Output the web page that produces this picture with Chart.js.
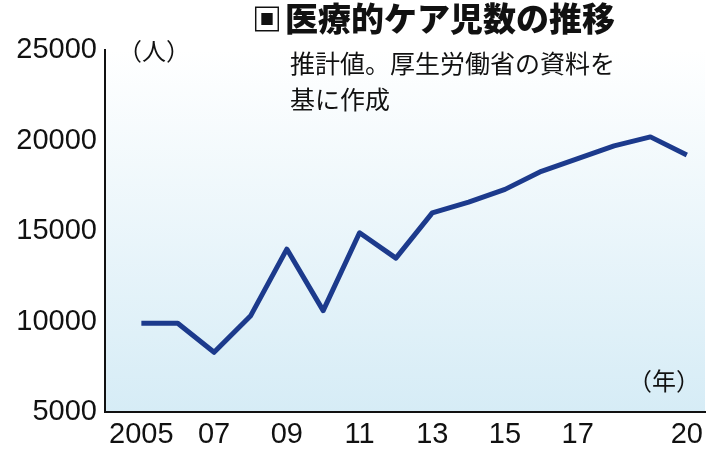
<!DOCTYPE html>
<html>
<head>
<meta charset="utf-8">
<script src="https://cdn.jsdelivr.net/npm/chart.js@4"></script>
<style>
  body { margin: 0; background: #fff; }
  #wrap { position: relative; width: 710px; height: 460px; }
  .t { position: absolute; font-family: "Noto Sans CJK JP", sans-serif; color: #111; white-space: nowrap; }
</style>
</head>
<body>
<div id="wrap">
  <canvas id="chart" width="710" height="460"></canvas>
  <div class="t" style="left:252px;top:-5px;font-size:30px;font-weight:900;">&#x25A3;</div>
  <div class="t" style="left:285px;top:-7px;font-size:33px;font-weight:900;">医療的ケア児数の推移</div>
  <div class="t" style="left:290px;top:44px;font-size:25px;">推計値。厚生労働省の資料を</div>
  <div class="t" style="left:290px;top:80px;font-size:25px;">基に作成</div>
  <div class="t" style="left:118px;top:32px;font-size:24px;">（人）</div>
  <div class="t" style="left:628px;top:362px;font-size:24px;">（年）</div>
</div>
<script>
const years = [2005, 2006, 2007, 2008, 2009, 2010, 2011, 2012, 2013, 2014, 2015, 2016, 2017, 2018, 2019, 2020];
const children = [9900, 9900, 8300, 10300, 14000, 10600, 14900, 13500, 16000, 16600, 17300, 18300, 19000, 19700, 20200, 19200];
const yTicks = [5000, 10000, 15000, 20000, 25000];
const xTicks = [2005, 2007, 2009, 2011, 2013, 2015, 2017, 2020];

const bgPlugin = {
    id: 'bg',
    beforeDraw(chart) {
        const { ctx, chartArea: a } = chart;
        const g = ctx.createLinearGradient(0, a.top, 0, a.bottom);
        g.addColorStop(0, '#ffffff');
        g.addColorStop(1, '#d6ecf6');
        ctx.save();
        ctx.fillStyle = g;
        ctx.fillRect(a.left, a.top, a.right - a.left, a.bottom - a.top);
        ctx.restore();
    }
};

new Chart(document.getElementById('chart'), {
    type: 'line',
    data: {
        datasets: [{
            data: years.map((y, i) => ({ x: y, y: children[i] })),
            borderColor: '#1c3a8c',
            borderWidth: 5,
            pointRadius: 0,
            tension: 0,
            borderJoinStyle: 'round'
        }]
    },
    options: {
        responsive: false,
        animation: false,
        layout: { padding: { top: 50, right: 5, left: 0, bottom: 0 } },
        plugins: { legend: { display: false }, tooltip: { enabled: false } },
        scales: {
            x: {
                type: 'linear', min: 2004, max: 2020.5,
                grid: { display: false, drawTicks: false },
                border: { color: '#111', width: 2 },
                afterFit(s) { s.height = 48; },
                afterBuildTicks(s) { s.ticks = xTicks.map(v => ({ value: v })); },
                ticks: {
                    autoSkip: false, maxRotation: 0, padding: 6,
                    color: '#111',
                    font: { family: 'Liberation Sans Narrow, Liberation Sans', size: 29 },
                    callback: v => v === 2005 ? '2005' : String(v % 100).padStart(2, '0')
                }
            },
            y: {
                min: 5000, max: 25000,
                grid: { display: false, drawTicks: true, tickLength: 6, color: '#111' },
                border: { color: '#111', width: 2 },
                afterFit(s) { s.width = 105; },
                afterBuildTicks(s) { s.ticks = yTicks.map(v => ({ value: v })); },
                ticks: {
                    padding: 2, color: '#111',
                    font: { family: 'Liberation Sans Narrow, Liberation Sans', size: 29 },
                    callback: v => String(v)
                }
            }
        }
    },
    plugins: [bgPlugin]
});
</script>
</body>
</html>
